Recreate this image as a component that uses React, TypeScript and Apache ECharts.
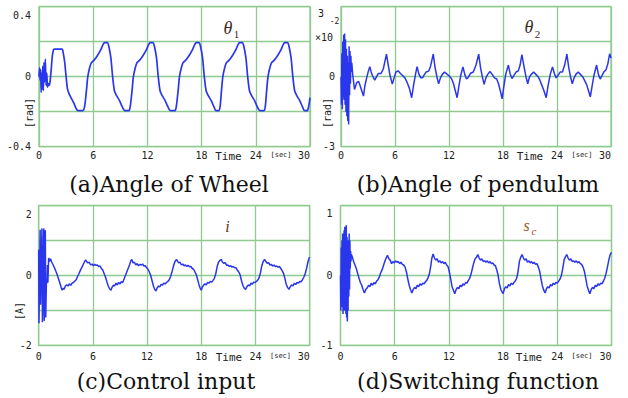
import React, { useEffect, useRef } from "react";
import * as echarts from "echarts";

// ---------- data ----------
const xTickLabels = ["0", "6", "12", "18", "24", "30"];

const yTickValsA = [-0.4, 0, 0.4];
const yTickLabelsA = ["-0.4", "0", "0.4"];
const yTickValsB = [-3, 0, 3];
const yTickLabelsB = ["-3", "0", "3"];
const yTickValsC = [-2, 0, 2];
const yTickLabelsC = ["-2", "0", "2"];
const yTickValsD = [-1, 0, 1];
const yTickLabelsD = ["-1", "0", "1"];

const panelTitles = ["(a)Angle of Wheel", "(b)Angle of pendulum", "(c)Control input", "(d)Switching function"];
const yNames = ["[rad]", "[rad]", "[A]", ""];

// (a) wheel angle theta1 [rad]
const wheelAngle: [number, number][] = [
  [0, 0.0], [0.06, 0.05], [0.12, -0.02], [0.18, 0.04], [0.24, -0.09], [0.3, 0.02], [0.36, -0.07], [0.42, 0.06],
  [0.48, -0.08], [0.55, 0.08], [0.62, -0.03], [0.7, 0.1], [0.78, -0.05], [0.86, 0.02], [0.94, -0.06], [1.02, -0.04],
  [1.12, -0.05], [1.22, -0.03], [1.35, 0.04], [1.48, 0.12], [1.62, 0.155], [1.75, 0.158], [2.55, 0.158], [2.7, 0.13],
  [2.85, 0.08], [3.0, 0.0], [3.15, -0.07], [3.35, -0.1], [3.6, -0.125], [3.85, -0.15], [4.1, -0.18], [4.3, -0.194],
  [4.85, -0.194],
  [5.05, -0.17], [5.25, -0.08], [5.4, 0.0], [5.6, 0.05], [5.8, 0.08], [6.1, 0.095], [6.4, 0.115], [6.8, 0.15],
  [7.1, 0.185], [7.25, 0.195], [7.55, 0.195], [7.7, 0.18], [7.95, 0.11], [8.15, 0.0], [8.35, -0.08], [8.6, -0.11],
  [8.9, -0.135], [9.2, -0.17], [9.5, -0.194], [9.95, -0.194],
  [10.1, -0.17], [10.3, -0.08], [10.45, 0.0], [10.65, 0.05], [10.85, 0.08], [11.15, 0.095], [11.45, 0.115], [11.85, 0.15],
  [12.15, 0.185], [12.3, 0.195], [12.6, 0.195], [12.75, 0.18], [13.0, 0.11], [13.2, 0.0], [13.4, -0.08], [13.65, -0.11],
  [13.95, -0.135], [14.25, -0.17], [14.55, -0.194], [15.05, -0.194],
  [15.2, -0.17], [15.4, -0.08], [15.55, 0.0], [15.75, 0.05], [15.95, 0.08], [16.25, 0.095], [16.55, 0.115], [16.95, 0.15],
  [17.25, 0.185], [17.4, 0.195], [17.7, 0.195], [17.85, 0.18], [18.1, 0.11], [18.3, 0.0], [18.5, -0.08], [18.75, -0.11],
  [19.05, -0.135], [19.35, -0.17], [19.6, -0.194], [19.9, -0.194],
  [20.05, -0.17], [20.2, -0.08], [20.35, 0.0], [20.55, 0.05], [20.75, 0.08], [21.05, 0.095], [21.35, 0.115], [21.75, 0.15],
  [22.05, 0.185], [22.2, 0.195], [22.5, 0.195], [22.65, 0.18], [22.9, 0.11], [23.1, 0.0], [23.3, -0.08], [23.55, -0.11],
  [23.85, -0.135], [24.15, -0.17], [24.45, -0.194], [24.9, -0.194],
  [25.05, -0.17], [25.2, -0.08], [25.35, 0.0], [25.55, 0.05], [25.75, 0.08], [26.05, 0.095], [26.35, 0.115], [26.75, 0.15],
  [27.05, 0.185], [27.2, 0.195], [27.5, 0.195], [27.65, 0.18], [27.9, 0.11], [28.1, 0.0], [28.3, -0.08], [28.55, -0.11],
  [28.85, -0.135], [29.15, -0.17], [29.4, -0.194], [29.7, -0.194], [29.85, -0.17], [30.0, -0.12],
];

// (b) pendulum angle theta2 [x10^-2 rad]
const pendulumAngle: [number, number][] = [
  [0, 0], [0.05, -1.2], [0.1, 1.0], [0.15, -1.4], [0.2, 1.5], [0.25, -0.9], [0.3, 1.8], [0.35, -1.0], [0.4, 1.85],
  [0.45, -1.2], [0.5, 1.6], [0.55, -1.5], [0.6, 1.2], [0.65, -1.7], [0.7, 0.9], [0.75, -1.9], [0.8, 0.6], [0.85, -2.05],
  [0.9, 1.3], [0.95, -0.8], [1.0, 1.1], [1.05, -0.3], [1.1, 0.9], [1.15, 0.2], [1.2, 0.6], [1.3, 0.1],
  [1.5, -0.55], [1.75, -0.25], [1.95, -0.2], [2.1, -0.36], [2.3, -0.6], [2.5, -0.83], [2.65, -0.4], [2.85, -0.05],
  [3.05, 0.25], [3.2, 0.43], [3.35, 0.2], [3.5, 0.04], [3.75, -0.15], [3.95, 0.0], [4.15, 0.14], [4.45, 0.14],
  [4.7, 0.33], [4.85, 0.6], [5.05, 0.97], [5.25, 0.5], [5.45, 0.05], [5.7, -0.32], [5.9, -0.05], [6.1, 0.2],
  [6.35, 0.25], [6.6, 0.14], [6.85, 0.05], [7.1, -0.05], [7.35, -0.25], [7.6, -0.5], [7.85, -0.9], [8.05, -0.4],
  [8.25, 0.05], [8.45, 0.43], [8.65, 0.12], [8.85, -0.04], [9.05, -0.05], [9.25, 0.08], [9.45, 0.2], [9.75, 0.24],
  [9.95, 0.45], [10.25, 0.97], [10.45, 0.4], [10.65, 0.0], [10.85, -0.3], [11.05, -0.05], [11.25, 0.1], [11.5, 0.2],
  [11.75, 0.12], [12.05, 0.02], [12.3, -0.1], [12.5, -0.3], [12.7, -0.6], [12.9, -0.9], [13.1, -0.4], [13.3, 0.05],
  [13.55, 0.42], [13.75, 0.1], [13.95, -0.1], [14.15, -0.02], [14.4, 0.15], [14.7, 0.2], [15.0, 0.5], [15.3, 0.97],
  [15.5, 0.4], [15.7, 0.0], [15.9, -0.33], [16.1, -0.05], [16.3, 0.1], [16.55, 0.22], [16.8, 0.1], [17.05, -0.05],
  [17.3, -0.1], [17.5, -0.3], [17.7, -0.6], [17.9, -0.95], [18.1, -0.4], [18.3, 0.1], [18.6, 0.5], [18.8, 0.12],
  [19.0, -0.08], [19.2, 0.05], [19.45, 0.2], [19.7, 0.25], [19.9, 0.5], [20.1, 0.95], [20.35, 0.4], [20.55, 0.0],
  [20.75, -0.3], [20.95, 0.0], [21.15, 0.1], [21.4, 0.2], [21.65, 0.1], [21.9, 0.0], [22.1, -0.15], [22.3, -0.35],
  [22.55, -0.6], [22.8, -0.9], [23.0, -0.4], [23.25, 0.1], [23.5, 0.42], [23.7, 0.15], [23.9, -0.05], [24.1, 0.05],
  [24.35, 0.2], [24.6, 0.2], [24.85, 0.5], [25.1, 0.97], [25.3, 0.4], [25.5, 0.0], [25.7, -0.3], [25.9, -0.05],
  [26.1, 0.1], [26.35, 0.2], [26.6, 0.1], [26.85, 0.0], [27.05, -0.15], [27.3, -0.35], [27.5, -0.6], [27.7, -0.86],
  [27.9, -0.4], [28.1, 0.05], [28.4, 0.5], [28.6, 0.1], [28.8, -0.1], [29.0, 0.05], [29.2, 0.2], [29.45, 0.3],
  [29.65, 0.55], [29.85, 0.98], [30.0, 0.8],
];

// (c) control input i [A]
const controlInput: [number, number][] = [
  [0, 0.74], [0.03, -1.37], [0.1, 0.05], [0.16, 1.31], [0.2, -0.84], [0.27, 0.0], [0.36, 1.35], [0.41, -1.34],
  [0.5, 0.05], [0.56, 1.35], [0.61, -1.3], [0.68, 0.1], [0.73, 1.3], [0.78, -1.2], [0.86, -0.1], [0.92, -0.22],
  [0.97, 0.3], [1.02, -0.2], [1.1, 0.5],
  [1.2, 0.4], [1.3, 0.48], [1.45, 0.38], [1.6, 0.3], [1.75, 0.22], [1.9, 0.12], [2.05, 0.02], [2.2, -0.1],
  [2.35, -0.22], [2.5, -0.35], [2.6, -0.42], [2.7, -0.36], [2.8, -0.4], [2.95, -0.3], [3.1, -0.27], [3.25, -0.3],
  [3.4, -0.24], [3.55, -0.28], [3.7, -0.22], [3.85, -0.2], [4.0, -0.16], [4.15, -0.12], [4.3, -0.03], [4.45, 0.05],
  [4.6, 0.14], [4.75, 0.22], [4.9, 0.3], [5.05, 0.38], [5.2, 0.45], [5.3, 0.4], [5.45, 0.36], [5.6, 0.38],
  [5.75, 0.3], [5.9, 0.33], [6.05, 0.28], [6.2, 0.32], [6.35, 0.29], [6.5, 0.3], [6.65, 0.26], [6.8, 0.27],
  [6.95, 0.2], [7.1, 0.15], [7.25, 0.05], [7.4, -0.05], [7.55, -0.18], [7.7, -0.3], [7.85, -0.38], [8.0, -0.42],
  [8.1, -0.35], [8.25, -0.28], [8.4, -0.3], [8.55, -0.22], [8.7, -0.27], [8.85, -0.2], [9.0, -0.24], [9.15, -0.18],
  [9.3, -0.2], [9.45, -0.1], [9.6, 0.0], [9.75, 0.1], [9.9, 0.2], [10.05, 0.3], [10.2, 0.42], [10.3, 0.46],
  [10.45, 0.36], [10.6, 0.38], [10.75, 0.3], [10.9, 0.34], [11.05, 0.28], [11.2, 0.32], [11.35, 0.3], [11.5, 0.33],
  [11.65, 0.27], [11.8, 0.28], [11.95, 0.22], [12.1, 0.18], [12.25, 0.1], [12.4, 0.0], [12.55, -0.15], [12.7, -0.3],
  [12.85, -0.4], [13.0, -0.44], [13.1, -0.36], [13.25, -0.3], [13.4, -0.33], [13.55, -0.25], [13.7, -0.28], [13.85, -0.22],
  [14.0, -0.24], [14.15, -0.2], [14.3, -0.17], [14.45, -0.12], [14.6, -0.03], [14.75, 0.1], [14.9, 0.25], [15.05, 0.38],
  [15.25, 0.46], [15.35, 0.42], [15.5, 0.36], [15.65, 0.38], [15.8, 0.3], [15.95, 0.33], [16.1, 0.28], [16.25, 0.3],
  [16.4, 0.26], [16.55, 0.29], [16.7, 0.25], [16.85, 0.26], [17.0, 0.2], [17.15, 0.18], [17.3, 0.1], [17.45, 0.02],
  [17.6, -0.12], [17.75, -0.27], [17.9, -0.38], [18.0, -0.42], [18.1, -0.34], [18.25, -0.28], [18.4, -0.24], [18.55, -0.27],
  [18.7, -0.2], [18.85, -0.22], [19.0, -0.17], [19.15, -0.19], [19.3, -0.14], [19.45, -0.08], [19.6, 0.05], [19.75, 0.25],
  [19.9, 0.38], [20.05, 0.43], [20.2, 0.46], [20.35, 0.38], [20.5, 0.35], [20.65, 0.37], [20.8, 0.29], [20.95, 0.3],
  [21.1, 0.26], [21.25, 0.28], [21.4, 0.24], [21.55, 0.26], [21.7, 0.22], [21.85, 0.22], [22.0, 0.15], [22.15, 0.1],
  [22.3, 0.02], [22.45, -0.15], [22.6, -0.28], [22.75, -0.36], [22.9, -0.4], [23.05, -0.32], [23.2, -0.27], [23.35, -0.3],
  [23.5, -0.22], [23.65, -0.25], [23.8, -0.19], [23.95, -0.2], [24.1, -0.17], [24.25, -0.13], [24.4, -0.06], [24.55, 0.08],
  [24.7, 0.28], [24.85, 0.4], [25.0, 0.46], [25.15, 0.4], [25.3, 0.35], [25.45, 0.37], [25.6, 0.3], [25.75, 0.32],
  [25.9, 0.27], [26.05, 0.3], [26.2, 0.26], [26.35, 0.27], [26.5, 0.24], [26.65, 0.26], [26.8, 0.2], [26.95, 0.14],
  [27.1, 0.06], [27.25, -0.08], [27.4, -0.25], [27.55, -0.34], [27.7, -0.4], [27.85, -0.32], [28.0, -0.27], [28.15, -0.3],
  [28.3, -0.22], [28.45, -0.26], [28.6, -0.2], [28.75, -0.22], [28.9, -0.17], [29.05, -0.18], [29.2, -0.12], [29.35, -0.05],
  [29.5, 0.05], [29.65, 0.2], [29.8, 0.38], [29.95, 0.52], [30.0, 0.5],
];

// (d) switching function s_c
const switchingFunction: [number, number][] = [
  [0, 0.0], [0.04, -0.5], [0.08, 0.4], [0.12, -0.45], [0.16, 0.5], [0.2, -0.3], [0.24, 0.6], [0.28, -0.55],
  [0.32, 0.55], [0.36, -0.4], [0.4, 0.65], [0.44, -0.5], [0.48, 0.7], [0.52, -0.45], [0.56, 0.62], [0.6, -0.55],
  [0.64, 0.72], [0.68, -0.6], [0.72, 0.55], [0.76, -0.66], [0.8, 0.5], [0.84, -0.5], [0.88, 0.45], [0.92, -0.3],
  [0.96, 0.6], [1.0, -0.2], [1.04, 0.5], [1.08, 0.1], [1.12, 0.35], [1.16, 0.2],
  [1.2, 0.3], [1.3, 0.27], [1.45, 0.2], [1.6, 0.15], [1.75, 0.1], [1.9, 0.03], [2.05, -0.04], [2.2, -0.1],
  [2.35, -0.14], [2.5, -0.2], [2.65, -0.25], [2.8, -0.2], [2.95, -0.18], [3.1, -0.14], [3.25, -0.16], [3.4, -0.11],
  [3.55, -0.14], [3.7, -0.1], [3.85, -0.12], [4.0, -0.08], [4.15, -0.06], [4.3, -0.02], [4.45, 0.04], [4.6, 0.08],
  [4.75, 0.14], [4.9, 0.2], [5.05, 0.25], [5.2, 0.29], [5.35, 0.24], [5.5, 0.22], [5.65, 0.17], [5.8, 0.2],
  [5.95, 0.18], [6.1, 0.21], [6.25, 0.19], [6.4, 0.2], [6.55, 0.17], [6.7, 0.19], [6.85, 0.16], [7.0, 0.15],
  [7.15, 0.12], [7.3, 0.05], [7.45, -0.05], [7.6, -0.14], [7.75, -0.2], [7.9, -0.25], [8.05, -0.2], [8.2, -0.17],
  [8.35, -0.19], [8.5, -0.14], [8.65, -0.16], [8.8, -0.12], [8.95, -0.14], [9.1, -0.11], [9.25, -0.12], [9.4, -0.09],
  [9.55, -0.07], [9.7, -0.03], [9.85, 0.03], [10.0, 0.14], [10.1, 0.24], [10.25, 0.31], [10.4, 0.25], [10.55, 0.22],
  [10.7, 0.24], [10.85, 0.19], [11.0, 0.21], [11.15, 0.18], [11.3, 0.2], [11.45, 0.17], [11.6, 0.19], [11.75, 0.15],
  [11.9, 0.13], [12.05, 0.05], [12.2, -0.05], [12.35, -0.16], [12.5, -0.21], [12.65, -0.26], [12.8, -0.2], [12.95, -0.17],
  [13.1, -0.19], [13.25, -0.14], [13.4, -0.16], [13.55, -0.12], [13.7, -0.14], [13.85, -0.1], [14.0, -0.11], [14.15, -0.07],
  [14.3, -0.04], [14.45, 0.02], [14.6, 0.1], [14.75, 0.18], [14.9, 0.24], [15.05, 0.26], [15.2, 0.3], [15.35, 0.25],
  [15.5, 0.22], [15.65, 0.24], [15.8, 0.2], [15.95, 0.21], [16.1, 0.19], [16.25, 0.21], [16.4, 0.18], [16.55, 0.2],
  [16.7, 0.17], [16.85, 0.18], [17.0, 0.15], [17.15, 0.14], [17.3, 0.08], [17.45, 0.0], [17.6, -0.12], [17.75, -0.2],
  [17.9, -0.24], [18.0, -0.26], [18.15, -0.19], [18.3, -0.16], [18.45, -0.18], [18.6, -0.13], [18.75, -0.15], [18.9, -0.11],
  [19.05, -0.13], [19.2, -0.1], [19.35, -0.08], [19.5, -0.04], [19.65, 0.05], [19.8, 0.2], [19.95, 0.26], [20.1, 0.3],
  [20.25, 0.25], [20.4, 0.22], [20.55, 0.24], [20.7, 0.19], [20.85, 0.21], [21.0, 0.18], [21.15, 0.2], [21.3, 0.17],
  [21.45, 0.19], [21.6, 0.16], [21.75, 0.17], [21.9, 0.12], [22.05, 0.06], [22.2, -0.05], [22.35, -0.15], [22.5, -0.21],
  [22.65, -0.25], [22.8, -0.19], [22.95, -0.16], [23.1, -0.18], [23.25, -0.13], [23.4, -0.15], [23.55, -0.11], [23.7, -0.13],
  [23.85, -0.1], [24.0, -0.11], [24.15, -0.08], [24.3, -0.05], [24.45, 0.0], [24.6, 0.1], [24.75, 0.22], [24.9, 0.27],
  [25.05, 0.3], [25.2, 0.25], [25.35, 0.22], [25.5, 0.24], [25.65, 0.2], [25.8, 0.21], [25.95, 0.19], [26.1, 0.21],
  [26.25, 0.18], [26.4, 0.2], [26.55, 0.17], [26.7, 0.16], [26.85, 0.12], [27.0, 0.06], [27.15, -0.04], [27.3, -0.15],
  [27.45, -0.21], [27.6, -0.26], [27.75, -0.2], [27.9, -0.17], [28.05, -0.19], [28.2, -0.14], [28.35, -0.16], [28.5, -0.12],
  [28.65, -0.14], [28.8, -0.11], [28.95, -0.12], [29.1, -0.08], [29.25, -0.04], [29.4, 0.03], [29.55, 0.12], [29.7, 0.22],
  [29.85, 0.3], [30.0, 0.33],
];

// ---------- styling ----------
const GREEN = "#8fcb8f";
const BLUE = "#2a36ee";
const MONO = '"DejaVu Sans Mono", "Liberation Mono", monospace';
const SERIF = '"DejaVu Serif", "Liberation Serif", serif';

const grids = [
  { left: 39, top: 6.7, width: 271, height: 140 },
  { left: 341, top: 6.7, width: 270, height: 140 },
  { left: 38.7, top: 205.7, width: 271, height: 139.6 },
  { left: 340.5, top: 205.7, width: 271, height: 139.6 },
];

const yConf = [
  { min: -0.4, max: 0.4, interval: 0.2, vals: yTickValsA, labels: yTickLabelsA, margin: 8, pad: [17, 0, 0, 0] },
  { min: -3, max: 3, interval: 1.5, vals: yTickValsB, labels: yTickLabelsB, margin: 6, pad: [14, 11, 0, 0] },
  { min: -2, max: 2, interval: 1, vals: yTickValsC, labels: yTickLabelsC, margin: 7, pad: [18, 0, 0, 0] },
  { min: -1, max: 1, interval: 0.5, vals: yTickValsD, labels: yTickLabelsD, margin: 8, pad: [15, 0, 0, 0] },
];

const seriesData = [wheelAngle, pendulumAngle, controlInput, switchingFunction];
const lineWidths = [1.7, 1.5, 1.5, 1.5];

function buildOption() {
  const xAxis = grids.map((_, i) => ({
    type: "value",
    gridIndex: i,
    min: 0,
    max: 30,
    interval: 6,
    axisLine: { show: false },
    axisTick: { show: false },
    splitLine: { show: true, lineStyle: { color: GREEN, width: 1.3 } },
    axisLabel: {
      margin: i < 2 ? 4 : 6,
      fontFamily: MONO,
      fontSize: 10,
      color: "#222",
      alignMaxLabel: "right",
      formatter: (v: number) => xTickLabels[Math.round(v / 6)] ?? "",
    },
  }));

  const yAxis = yConf.map((c, i) => ({
    type: "value",
    gridIndex: i,
    min: c.min,
    max: c.max,
    interval: c.interval,
    axisLine: { show: false },
    axisTick: { show: false },
    splitLine: { show: true, lineStyle: { color: GREEN, width: 1.3 } },
    axisLabel: {
      margin: c.margin,
      fontFamily: MONO,
      fontSize: 10,
      color: "#222",
      formatter: (v: number) => {
        const k = c.vals.findIndex((t) => Math.abs(t - v) < 1e-6);
        if (k < 0) return "";
        if (k === c.vals.length - 1) return "{top|" + c.labels[k] + "}";
        return c.labels[k];
      },
      rich: {
        top: { padding: c.pad, fontFamily: MONO, fontSize: 10, color: "#222" },
      },
    },
  }));

  const series = seriesData.map((d, i) => ({
    type: "line",
    xAxisIndex: i,
    yAxisIndex: i,
    data: d,
    showSymbol: false,
    smooth: i === 0 ? 0.25 : false,
    lineStyle: { color: BLUE, width: lineWidths[i] },
  }));

  const t = (text: string, x: number, y: number, font: string, fill = "#111", extra: any = {}) => ({
    type: "text",
    x,
    y,
    z: 10,
    ...extra,
    style: { text, font, fill, align: "center", verticalAlign: "middle", textAlign: "center", textVerticalAlign: "middle" },
  });

  const rot = { rotation: Math.PI / 2 };
  const graphic: any[] = [
    t(yNames[0], 29, 113, "10px " + MONO, "#222", rot),
    t(yNames[1], 327.5, 113, "10px " + MONO, "#222", rot),
    t(yNames[2], 19.5, 311, "10px " + MONO, "#222", rot),
    // Time / [sec]
    t("Time", 228.5, 156, "11px " + MONO, "#222"),
    t("[sec]", 281, 154.5, "7px " + MONO, "#222"),
    t("Time", 530, 156, "11px " + MONO, "#222"),
    t("[sec]", 582, 154.5, "7px " + MONO, "#222"),
    t("Time", 229, 357.5, "11px " + MONO, "#222"),
    t("[sec]", 280.5, 356, "7px " + MONO, "#222"),
    t("Time", 529, 357.5, "11px " + MONO, "#222"),
    t("[sec]", 582, 356, "7px " + MONO, "#222"),
    // scale factor for (b)
    t("×10", 324, 37.5, "10px " + MONO, "#222"),
    t("-2", 334.5, 21.7, "8px " + MONO, "#222"),
    // titles
    t(panelTitles[0], 169, 184, "22px " + SERIF, "#111"),
    t(panelTitles[1], 478, 184, "22px " + SERIF, "#111"),
    t(panelTitles[2], 166, 381, "22px " + SERIF, "#111"),
    t(panelTitles[3], 478, 381, "22px " + SERIF, "#111"),
    // signal labels
    t("θ", 228, 27.5, 'italic 18px "Liberation Serif", serif', "#3b2a1e"),
    t("1", 236.5, 34, '11px "Liberation Serif", serif', "#3b2a1e"),
    t("θ", 529, 27, 'italic 18px "Liberation Serif", serif', "#3b2a1e"),
    t("2", 537.5, 33.5, '11px "Liberation Serif", serif', "#3b2a1e"),
    t("i", 227.5, 226, 'italic 16px "Liberation Serif", serif', "#5a3a18"),
    t("s", 526.5, 225, 'italic 16px "Liberation Serif", serif', "#9a5a22"),
    t("c", 534, 231, 'italic 11px "Liberation Serif", serif', "#b0401e"),
  ];

  return {
    animation: false,
    backgroundColor: "#ffffff",
    grid: grids.map((g) => ({ ...g, show: true, borderColor: GREEN, borderWidth: 1.3, backgroundColor: "transparent" })),
    xAxis,
    yAxis,
    series,
    graphic,
  };
}

export default function App() {
  const ref = useRef<HTMLDivElement>(null);
  useEffect(() => {
    document.body.style.margin = "0";
    if (!ref.current) return;
    const chart = echarts.init(ref.current, undefined, { renderer: "svg" });
    chart.setOption(buildOption() as any);
    return () => chart.dispose();
  }, []);
  return (
    <div
      ref={ref}
      style={{ position: "fixed", left: 0, top: 0, width: 628, height: 398, background: "#fff" }}
    />
  );
}
